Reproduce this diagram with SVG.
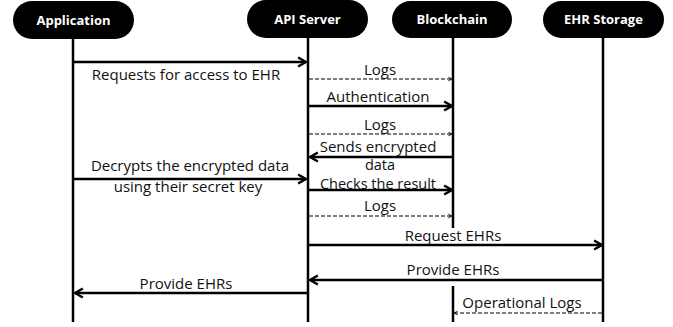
<svg xmlns="http://www.w3.org/2000/svg" width="673" height="327" viewBox="0 0 673 327">
<defs>
<style>
.pill{fill:#000}
.hd{font-family:"Open Sans","Noto Sans",sans-serif;font-weight:700;font-size:13px;fill:#fff;text-anchor:middle}
.life{stroke:#000;stroke-width:2.5;fill:none}
.msg{stroke:#000;stroke-width:2.5;fill:none}
.dash{stroke:#000;stroke-width:1.2;stroke-dasharray:4 2;fill:none}
.lbl{font-family:"Open Sans","Noto Sans",sans-serif;font-size:15px;fill:#111;text-anchor:middle}
.tight{font-size:14.5px}
</style>
<marker id="ah" viewBox="0 0 10 10" refX="9" refY="5" markerWidth="4.5" markerHeight="4.5" orient="auto-start-reverse" markerUnits="strokeWidth">
<polyline points="2,1 9,5 2,9" fill="none" stroke="#000" stroke-width="2.2"/>
</marker>
<marker id="ahs" viewBox="0 0 10 10" refX="9" refY="5" markerWidth="5" markerHeight="5" orient="auto-start-reverse" markerUnits="strokeWidth">
<polyline points="3,2 9,5 3,8" fill="none" stroke="#000" stroke-width="1.5"/>
</marker>
</defs>
<rect width="673" height="327" fill="#fff"/>
<g id="application">
<rect class="pill" x="13" y="1" width="121" height="38" rx="19"/>
<text class="hd" x="73.5" y="24.5">Application</text>
<line class="life" x1="73" y1="38" x2="73" y2="322"/>
</g>
<g id="api-server">
<rect class="pill" x="247" y="0" width="121" height="38" rx="19"/>
<text class="hd" x="307.5" y="23.5">API Server</text>
<line class="life" x1="308" y1="38" x2="308" y2="322"/>
</g>
<g id="blockchain">
<rect class="pill" x="392" y="1" width="120" height="37" rx="18.5"/>
<text class="hd" x="452" y="24">Blockchain</text>
<line class="life" x1="453" y1="37" x2="453" y2="228"/>
<line class="life" x1="453" y1="286" x2="453" y2="322"/>
</g>
<g id="ehr-storage">
<rect class="pill" x="543" y="1" width="121" height="37" rx="18.5"/>
<text class="hd" x="603.5" y="24">EHR Storage</text>
<line class="life" x1="603" y1="37" x2="603" y2="322"/>
</g>
<g id="connectors">
<line class="msg" x1="73" y1="62" x2="306" y2="62" marker-end="url(#ah)"/>
<line class="dash" x1="309" y1="79" x2="452" y2="79" marker-end="url(#ahs)"/>
<line class="msg" x1="309" y1="106" x2="452" y2="106" marker-end="url(#ah)"/>
<line class="dash" x1="309" y1="134" x2="452" y2="134" marker-end="url(#ahs)"/>
<line class="msg" x1="453" y1="157" x2="310" y2="157" marker-end="url(#ah)"/>
<line class="msg" x1="73" y1="179" x2="306" y2="179" marker-end="url(#ah)"/>
<line class="msg" x1="309" y1="190" x2="452" y2="190" marker-end="url(#ah)"/>
<line class="dash" x1="309" y1="216" x2="452" y2="216" marker-end="url(#ahs)"/>
<line class="msg" x1="309" y1="245" x2="602" y2="245" marker-end="url(#ah)"/>
<line class="msg" x1="603" y1="280" x2="310" y2="280" marker-end="url(#ah)"/>
<line class="msg" x1="308" y1="293" x2="75" y2="293" marker-end="url(#ah)"/>
<line class="dash" x1="602" y1="313" x2="454" y2="313" marker-end="url(#ahs)"/>
</g>
<g id="labels">
<text class="lbl" x="186" y="80">Requests for access to EHR</text>
<text class="lbl" x="380" y="75">Logs</text>
<text class="lbl" x="378" y="102">Authentication</text>
<text class="lbl" x="380" y="130">Logs</text>
<text class="lbl" x="378" y="152">Sends encrypted</text>
<text class="lbl tight" x="380" y="170">data</text>
<text class="lbl" x="190" y="171">Decrypts the encrypted data</text>
<text class="lbl" x="188" y="192">using their secret key</text>
<text class="lbl tight" x="378" y="188.5">Checks the result</text>
<text class="lbl" x="380" y="211">Logs</text>
<text class="lbl" x="453" y="241">Request EHRs</text>
<text class="lbl" x="453" y="275">Provide EHRs</text>
<text class="lbl" x="186" y="289">Provide EHRs</text>
<text class="lbl" x="522" y="308">Operational Logs</text>
</g>
</svg>
